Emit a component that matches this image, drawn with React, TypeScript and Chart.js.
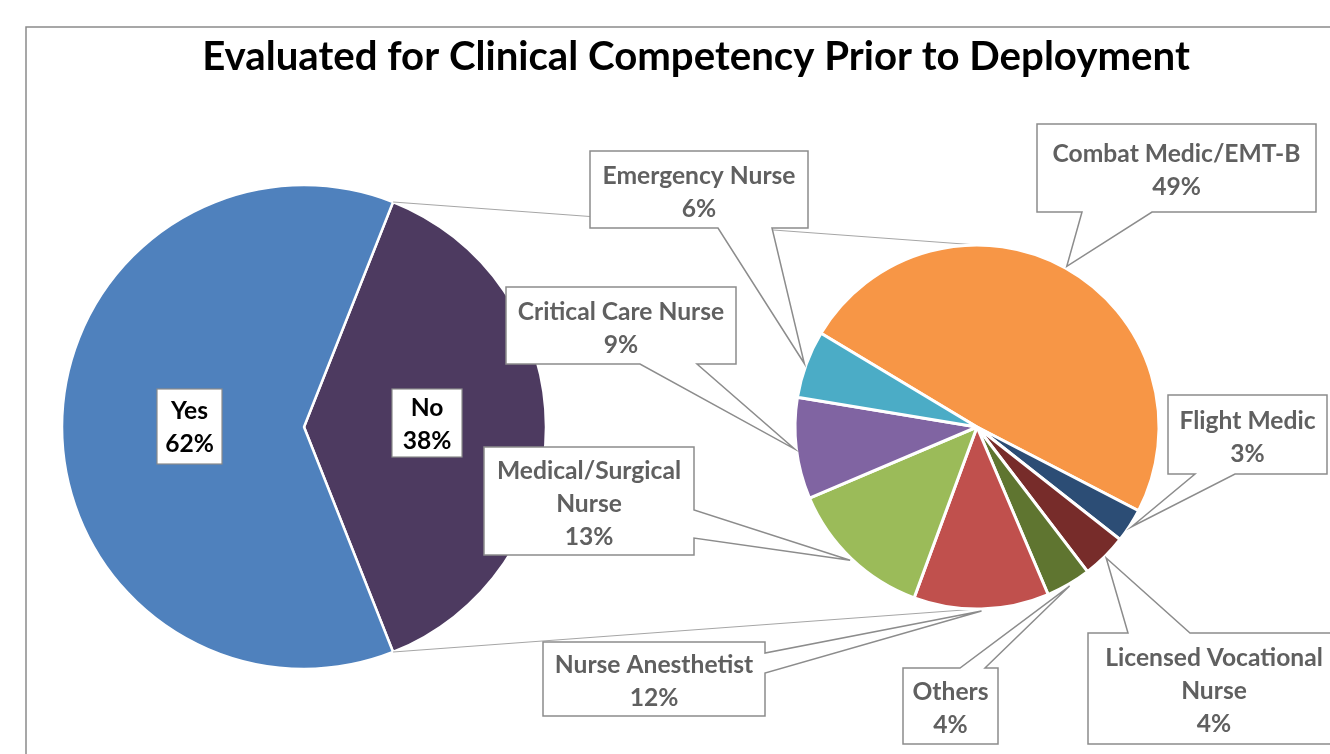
import { useEffect, useRef } from "react";
import { Chart, registerables } from "chart.js";

Chart.register(...registerables);

// ---------- data ----------
const chartTitle = "Evaluated for Clinical Competency Prior to Deployment";

const mainCategories = ["No", "Yes"];
const mainValues = [38, 62];
const mainColors = ["#4d3a60", "#4f81bd"];

const subCategories = [
  "Combat Medic/EMT-B",
  "Flight Medic",
  "Licensed Vocational Nurse",
  "Others",
  "Nurse Anesthetist",
  "Medical/Surgical Nurse",
  "Critical Care Nurse",
  "Emergency Nurse",
];
const subValues = [49, 3, 4, 4, 12, 13, 9, 6];
const subColors = ["#f79646", "#2c4d75", "#772c2a", "#5f7530", "#c0504d", "#9bbb59", "#8064a2", "#4bacc6"];
const subLabelLines = [
  ["Combat Medic/EMT-B"],
  ["Flight Medic"],
  ["Licensed Vocational", "Nurse"],
  ["Others"],
  ["Nurse Anesthetist"],
  ["Medical/Surgical", "Nurse"],
  ["Critical Care Nurse"],
  ["Emergency Nurse"],
];

// ---------- layout (annotation boxes only) ----------
type Side = "top" | "right" | "bottom" | "left";
const calloutBoxes: { box: [number, number, number, number]; side: Side; base: [number, number] }[] = [
  { box: [1037, 124, 1316, 212], side: "bottom", base: [1082, 1152] },
  { box: [1168, 395, 1327, 474], side: "bottom", base: [1195, 1235] },
  { box: [1088, 633, 1340, 744], side: "top", base: [1128, 1190] },
  { box: [903, 668, 998, 744], side: "top", base: [960, 985] },
  { box: [543, 642, 765, 716], side: "right", base: [653, 673] },
  { box: [484, 447, 694, 555], side: "right", base: [510, 538] },
  { box: [506, 287, 736, 364], side: "bottom", base: [640, 697] },
  { box: [590, 151, 808, 228], side: "bottom", base: [718, 772] },
];
const mainLabelBoxes: [number, number, number, number][] = [
  [392, 389, 462, 457],
  [157, 389, 222, 464],
];

const FONT = "Lato, 'Open Sans', sans-serif";
const W = 1330;
const H = 754;

function fitSize(ctx: CanvasRenderingContext2D, text: string, target: number, weight = "bold") {
  ctx.font = `${weight} 20px ${FONT}`;
  const w = ctx.measureText(text).width;
  return (20 * target) / w;
}

function pct(v: number, arr: number[]) {
  const t = arr.reduce((a, b) => a + b, 0);
  return Math.round((v / t) * 100) + "%";
}

function calloutPath(
  ctx: CanvasRenderingContext2D,
  box: [number, number, number, number],
  side: Side,
  base: [number, number],
  tip: [number, number]
) {
  const [x0, y0, x1, y1] = box;
  const [b1, b2] = base;
  ctx.beginPath();
  ctx.moveTo(x0, y0);
  if (side === "top") {
    ctx.lineTo(b1, y0);
    ctx.lineTo(tip[0], tip[1]);
    ctx.lineTo(b2, y0);
  }
  ctx.lineTo(x1, y0);
  if (side === "right") {
    ctx.lineTo(x1, b1);
    ctx.lineTo(tip[0], tip[1]);
    ctx.lineTo(x1, b2);
  }
  ctx.lineTo(x1, y1);
  if (side === "bottom") {
    ctx.lineTo(b2, y1);
    ctx.lineTo(tip[0], tip[1]);
    ctx.lineTo(b1, y1);
  }
  ctx.lineTo(x0, y1);
  if (side === "left") {
    ctx.lineTo(x0, b2);
    ctx.lineTo(tip[0], tip[1]);
    ctx.lineTo(x0, b1);
  }
  ctx.closePath();
}

function drawLines(
  ctx: CanvasRenderingContext2D,
  lines: string[],
  cx: number,
  cy: number,
  lh: number,
  offset: number
) {
  const n = lines.length;
  lines.forEach((l, i) => {
    ctx.fillText(l, cx, cy + (i - (n - 1) / 2) * lh + offset);
  });
}

export default function App() {
  const leftRef = useRef<HTMLCanvasElement>(null);
  const rightRef = useRef<HTMLCanvasElement>(null);

  useEffect(() => {
    if (!leftRef.current || !rightRef.current) return;

    const leftPlugin = {
      id: "leftDecor",
      beforeDraw(chart: any) {
        const ctx = chart.ctx as CanvasRenderingContext2D;
        ctx.save();
        ctx.fillStyle = "#ffffff";
        ctx.fillRect(0, 0, W, H);
        ctx.strokeStyle = "#8a8a8a";
        ctx.lineWidth = 1.5;
        ctx.strokeRect(26, 27, W + 20, H + 20);
        // title
        const size = fitSize(ctx, chartTitle, 988);
        ctx.font = `bold ${size}px ${FONT}`;
        ctx.fillStyle = "#000000";
        ctx.textAlign = "center";
        ctx.textBaseline = "alphabetic";
        ctx.fillText(chartTitle, 696, 70);
        ctx.restore();
      },
      afterDatasetsDraw(chart: any) {
        const ctx = chart.ctx as CanvasRenderingContext2D;
        ctx.save();
        const size = fitSize(ctx, "Combat Medic/EMT-B", 248);
        ctx.font = `bold ${size}px ${FONT}`;
        ctx.textAlign = "center";
        ctx.textBaseline = "alphabetic";
        mainCategories.forEach((c, i) => {
          const [x0, y0, x1, y1] = mainLabelBoxes[i];
          ctx.fillStyle = "#ffffff";
          ctx.fillRect(x0, y0, x1 - x0, y1 - y0);
          ctx.strokeStyle = "#8a8a8a";
          ctx.lineWidth = 1.2;
          ctx.strokeRect(x0, y0, x1 - x0, y1 - y0);
          ctx.fillStyle = "#000000";
          drawLines(ctx, [c, pct(mainValues[i], mainValues)], (x0 + x1) / 2, (y0 + y1) / 2, 33, 9);
        });
        ctx.restore();
      },
    };

    const left = new Chart(leftRef.current, {
      type: "pie",
      data: {
        labels: mainCategories,
        datasets: [
          {
            data: mainValues,
            backgroundColor: mainColors,
            borderColor: "#ffffff",
            borderWidth: 2.5,
          },
        ],
      },
      options: {
        responsive: false,
        animation: false,
        events: [],
        rotation: 21.6,
        radius: 242,
        layout: { padding: { left: 54, right: W - 554, top: 177, bottom: H - 677 } },
        plugins: { legend: { display: false }, tooltip: { enabled: false }, title: { display: false } },
      },
      plugins: [leftPlugin],
    } as any);

    const rightPlugin = {
      id: "rightDecor",
      beforeDatasetsDraw(chart: any) {
        const ctx = chart.ctx as CanvasRenderingContext2D;
        const lArc: any = left.getDatasetMeta(0).data[0];
        const rArc: any = chart.getDatasetMeta(0).data[0];
        if (!lArc || !rArc) return;
        const R = lArc.outerRadius;
        const p1 = [lArc.x + R * Math.cos(lArc.startAngle), lArc.y + R * Math.sin(lArc.startAngle)];
        const p2 = [lArc.x + R * Math.cos(lArc.endAngle), lArc.y + R * Math.sin(lArc.endAngle)];
        const top = [rArc.x, rArc.y - rArc.outerRadius];
        const bot = [rArc.x, rArc.y + rArc.outerRadius];
        ctx.save();
        ctx.strokeStyle = "#a6a6a6";
        ctx.lineWidth = 1.2;
        ctx.beginPath();
        ctx.moveTo(p1[0], p1[1]);
        ctx.lineTo(top[0], top[1]);
        ctx.moveTo(p2[0], p2[1]);
        ctx.lineTo(bot[0], bot[1]);
        ctx.stroke();
        ctx.restore();
      },
      afterDatasetsDraw(chart: any) {
        const ctx = chart.ctx as CanvasRenderingContext2D;
        const arcs: any[] = chart.getDatasetMeta(0).data;
        ctx.save();
        const size = fitSize(ctx, "Combat Medic/EMT-B", 248);
        subCategories.forEach((_, i) => {
          const a = arcs[i];
          const mid = (a.startAngle + a.endAngle) / 2;
          const r = a.outerRadius + 2;
          const tip: [number, number] = [a.x + r * Math.cos(mid), a.y + r * Math.sin(mid)];
          const cb = calloutBoxes[i];
          calloutPath(ctx, cb.box, cb.side, cb.base, tip);
          ctx.fillStyle = "#ffffff";
          ctx.fill();
          ctx.strokeStyle = "#8c8c8c";
          ctx.lineWidth = 1.5;
          ctx.lineJoin = "miter";
          ctx.stroke();
          ctx.font = `bold ${size}px ${FONT}`;
          ctx.fillStyle = "#606060";
          ctx.textAlign = "center";
          ctx.textBaseline = "alphabetic";
          const [x0, y0, x1, y1] = cb.box;
          const cx = Math.min(x1, W - 2) === x1 ? (x0 + x1) / 2 : (x0 + x1) / 2;
          drawLines(ctx, [...subLabelLines[i], pct(subValues[i], subValues)], cx, (y0 + y1) / 2, 33, 10.5);
        });
        ctx.restore();
      },
    };

    const right = new Chart(rightRef.current, {
      type: "pie",
      data: {
        labels: subCategories,
        datasets: [
          {
            data: subValues,
            backgroundColor: subColors,
            borderColor: "#ffffff",
            borderWidth: 3,
          },
        ],
      },
      options: {
        responsive: false,
        animation: false,
        events: [],
        rotation: -59,
        radius: 182,
        layout: { padding: { left: 787, right: W - 1167, top: 237, bottom: H - 617 } },
        plugins: { legend: { display: false }, tooltip: { enabled: false }, title: { display: false } },
      },
      plugins: [rightPlugin],
    } as any);

    return () => {
      right.destroy();
      left.destroy();
    };
  }, []);

  return (
    <div style={{ position: "absolute", left: 0, top: 0, width: W, height: H, overflow: "hidden", background: "#fff" }}>
      <canvas ref={leftRef} width={W} height={H} style={{ position: "absolute", left: 0, top: 0 }} />
      <canvas ref={rightRef} width={W} height={H} style={{ position: "absolute", left: 0, top: 0 }} />
    </div>
  );
}
